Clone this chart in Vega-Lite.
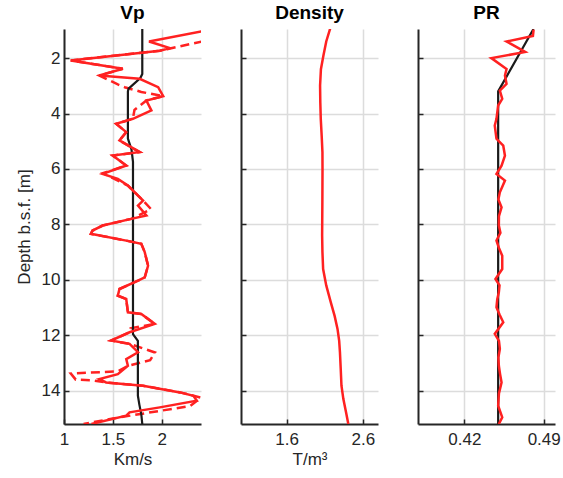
{
  "$schema": "https://vega.github.io/schema/vega-lite/v6.json",
  "background": "white",
  "padding": {"left": 15, "top": 4, "right": 5, "bottom": 5},
  "bounds": "flush",
  "spacing": 40,
  "config": {
    "font": "Liberation Sans",
    "view": {"stroke": null},
    "axis": {
      "domainColor": "#262626", "domainWidth": 2,
      "tickColor": "#262626", "tickWidth": 1.5, "tickSize": -5,
      "gridColor": "#dcdcdc", "gridWidth": 1.5,
      "labelFontSize": 17, "titleFontSize": 17,
      "labelColor": "#262626", "titleColor": "#262626",
      "titleFontWeight": "normal", "labelFlush": false, "labelOverlap": false
    },
    "axisX": {"labelPadding": 12},
    "axisY": {"labelPadding": 9},
    "title": {"fontSize": 19, "fontWeight": "bold", "color": "#000000", "offset": 6}
  },
  "datasets": {
    "vp": [
      {"series": "dash", "depth": 1.30, "value": 2.56},
      {"series": "dash", "depth": 1.48, "value": 2.306},
      {"series": "dash", "depth": 1.736, "value": 1.979},
      {"series": "dash", "depth": 2.085, "value": 1.069},
      {"series": "dash", "depth": 2.386, "value": 1.601},
      {"series": "dash", "depth": 2.627, "value": 1.361},
      {"series": "dash", "depth": 2.95, "value": 1.55},
      {"series": "dash", "depth": 3.05, "value": 1.62},
      {"series": "dash", "depth": 3.22, "value": 1.79},
      {"series": "dash", "depth": 3.372, "value": 2.014},
      {"series": "dash", "depth": 3.53, "value": 1.842},
      {"series": "dash", "depth": 3.87, "value": 1.72},
      {"series": "dash", "depth": 4.19, "value": 1.704},
      {"series": "dash", "depth": 4.37, "value": 1.533},
      {"series": "dash", "depth": 4.67, "value": 1.636},
      {"series": "dash", "depth": 4.97, "value": 1.567},
      {"series": "dash", "depth": 5.39, "value": 1.773},
      {"series": "dash", "depth": 5.515, "value": 1.498},
      {"series": "dash", "depth": 5.876, "value": 1.636},
      {"series": "dash", "depth": 6.15, "value": 1.40},
      {"series": "dash", "depth": 6.30, "value": 1.48},
      {"series": "dash", "depth": 6.598, "value": 1.653},
      {"series": "dash", "depth": 6.899, "value": 1.739},
      {"series": "dash", "depth": 7.14, "value": 1.808},
      {"series": "dash", "depth": 7.45, "value": 1.89},
      {"series": "dash", "depth": 7.80, "value": 1.687},
      {"series": "dash", "depth": 8.04, "value": 1.395},
      {"series": "dash", "depth": 8.22, "value": 1.292},
      {"series": "dash", "depth": 8.34, "value": 1.275},
      {"series": "dash", "depth": 8.585, "value": 1.636},
      {"series": "dash", "depth": 8.70, "value": 1.790},
      {"series": "dash", "depth": 9.00, "value": 1.825},
      {"series": "dash", "depth": 9.49, "value": 1.859},
      {"series": "dash", "depth": 9.91, "value": 1.825},
      {"series": "dash", "depth": 10.03, "value": 1.756},
      {"series": "dash", "depth": 10.33, "value": 1.567},
      {"series": "dash", "depth": 10.57, "value": 1.550},
      {"series": "dash", "depth": 10.69, "value": 1.636},
      {"series": "dash", "depth": 11.17, "value": 1.653},
      {"series": "dash", "depth": 11.23, "value": 1.790},
      {"series": "dash", "depth": 11.59, "value": 1.928},
      {"series": "dash", "depth": 11.75, "value": 1.68},
      {"series": "dash", "depth": 11.89, "value": 1.670},
      {"series": "dash", "depth": 12.19, "value": 1.481},
      {"series": "dash", "depth": 12.31, "value": 1.670},
      {"series": "dash", "depth": 12.62, "value": 1.93},
      {"series": "dash", "depth": 12.90, "value": 1.88},
      {"series": "dash", "depth": 13.10, "value": 1.653},
      {"series": "dash", "depth": 13.30, "value": 1.55},
      {"series": "dash", "depth": 13.38, "value": 1.07},
      {"series": "dash", "depth": 13.60, "value": 1.12},
      {"series": "dash", "depth": 13.62, "value": 1.28},
      {"series": "dash", "depth": 13.70, "value": 1.43},
      {"series": "dash", "depth": 13.82, "value": 1.808},
      {"series": "dash", "depth": 14.06, "value": 2.186},
      {"series": "dash", "depth": 14.25, "value": 2.40},
      {"series": "dash", "depth": 14.55, "value": 2.29},
      {"series": "dash", "depth": 14.80, "value": 1.85},
      {"series": "dash", "depth": 15.00, "value": 1.50},
      {"series": "dash", "depth": 15.20, "value": 1.20},

      {"series": "solid", "depth": 0.95, "value": 2.54},
      {"series": "solid", "depth": 1.40, "value": 1.869},
      {"series": "solid", "depth": 1.64, "value": 2.082},
      {"series": "solid", "depth": 1.736, "value": 1.979},
      {"series": "solid", "depth": 2.085, "value": 1.069},
      {"series": "solid", "depth": 2.386, "value": 1.601},
      {"series": "solid", "depth": 2.627, "value": 1.361},
      {"series": "solid", "depth": 2.747, "value": 1.773},
      {"series": "solid", "depth": 3.047, "value": 1.962},
      {"series": "solid", "depth": 3.372, "value": 2.014},
      {"series": "solid", "depth": 3.53, "value": 1.842},
      {"series": "solid", "depth": 3.89, "value": 1.893},
      {"series": "solid", "depth": 4.19, "value": 1.704},
      {"series": "solid", "depth": 4.37, "value": 1.533},
      {"series": "solid", "depth": 4.67, "value": 1.636},
      {"series": "solid", "depth": 4.97, "value": 1.567},
      {"series": "solid", "depth": 5.39, "value": 1.773},
      {"series": "solid", "depth": 5.515, "value": 1.498},
      {"series": "solid", "depth": 5.876, "value": 1.636},
      {"series": "solid", "depth": 6.177, "value": 1.395},
      {"series": "solid", "depth": 6.357, "value": 1.550},
      {"series": "solid", "depth": 6.598, "value": 1.653},
      {"series": "solid", "depth": 6.899, "value": 1.739},
      {"series": "solid", "depth": 7.14, "value": 1.808},
      {"series": "solid", "depth": 7.32, "value": 1.756},
      {"series": "solid", "depth": 7.68, "value": 1.842},
      {"series": "solid", "depth": 7.80, "value": 1.687},
      {"series": "solid", "depth": 8.04, "value": 1.395},
      {"series": "solid", "depth": 8.22, "value": 1.292},
      {"series": "solid", "depth": 8.34, "value": 1.275},
      {"series": "solid", "depth": 8.585, "value": 1.636},
      {"series": "solid", "depth": 8.70, "value": 1.790},
      {"series": "solid", "depth": 9.00, "value": 1.825},
      {"series": "solid", "depth": 9.49, "value": 1.859},
      {"series": "solid", "depth": 9.91, "value": 1.825},
      {"series": "solid", "depth": 10.03, "value": 1.756},
      {"series": "solid", "depth": 10.33, "value": 1.567},
      {"series": "solid", "depth": 10.57, "value": 1.550},
      {"series": "solid", "depth": 10.69, "value": 1.636},
      {"series": "solid", "depth": 11.17, "value": 1.653},
      {"series": "solid", "depth": 11.23, "value": 1.790},
      {"series": "solid", "depth": 11.59, "value": 1.928},
      {"series": "solid", "depth": 11.89, "value": 1.670},
      {"series": "solid", "depth": 12.19, "value": 1.481},
      {"series": "solid", "depth": 12.31, "value": 1.670},
      {"series": "solid", "depth": 12.61, "value": 1.756},
      {"series": "solid", "depth": 12.86, "value": 1.636},
      {"series": "solid", "depth": 13.10, "value": 1.653},
      {"series": "solid", "depth": 13.40, "value": 1.550},
      {"series": "solid", "depth": 13.58, "value": 1.361},
      {"series": "solid", "depth": 13.70, "value": 1.430},
      {"series": "solid", "depth": 13.82, "value": 1.808},
      {"series": "solid", "depth": 14.06, "value": 2.186},
      {"series": "solid", "depth": 14.18, "value": 2.323},
      {"series": "solid", "depth": 14.36, "value": 2.357},
      {"series": "solid", "depth": 14.60, "value": 1.979},
      {"series": "solid", "depth": 14.78, "value": 1.670},
      {"series": "solid", "depth": 14.90, "value": 1.636},
      {"series": "solid", "depth": 15.20, "value": 1.28},

      {"series": "model", "depth": 0.95, "value": 1.80},
      {"series": "model", "depth": 2.57, "value": 1.80},
      {"series": "model", "depth": 2.72, "value": 1.78},
      {"series": "model", "depth": 3.10, "value": 1.66},
      {"series": "model", "depth": 3.20, "value": 1.653},
      {"series": "model", "depth": 4.90, "value": 1.653},
      {"series": "model", "depth": 5.30, "value": 1.69},
      {"series": "model", "depth": 5.74, "value": 1.705},
      {"series": "model", "depth": 11.96, "value": 1.705},
      {"series": "model", "depth": 12.20, "value": 1.755},
      {"series": "model", "depth": 14.18, "value": 1.755},
      {"series": "model", "depth": 14.50, "value": 1.77},
      {"series": "model", "depth": 14.85, "value": 1.79},
      {"series": "model", "depth": 15.20, "value": 1.80}
    ],
    "density": [
      {"depth": 0.94, "value": 2.171},
      {"depth": 1.40, "value": 2.12},
      {"depth": 1.906, "value": 2.083},
      {"depth": 2.40, "value": 2.05},
      {"depth": 2.99, "value": 2.039},
      {"depth": 3.60, "value": 2.042},
      {"depth": 4.19, "value": 2.048},
      {"depth": 4.80, "value": 2.06},
      {"depth": 5.39, "value": 2.07},
      {"depth": 6.00, "value": 2.071},
      {"depth": 6.60, "value": 2.07},
      {"depth": 7.20, "value": 2.069},
      {"depth": 8.40, "value": 2.066},
      {"depth": 9.00, "value": 2.07},
      {"depth": 9.61, "value": 2.079},
      {"depth": 10.20, "value": 2.12},
      {"depth": 10.81, "value": 2.18},
      {"depth": 11.30, "value": 2.23},
      {"depth": 11.77, "value": 2.268},
      {"depth": 12.20, "value": 2.29},
      {"depth": 12.61, "value": 2.30},
      {"depth": 13.20, "value": 2.31},
      {"depth": 13.82, "value": 2.32},
      {"depth": 14.30, "value": 2.345},
      {"depth": 14.78, "value": 2.38},
      {"depth": 15.20, "value": 2.41}
    ],
    "pr": [
      {"series": "model", "depth": 0.95, "value": 0.481},
      {"series": "model", "depth": 3.20, "value": 0.4498},
      {"series": "model", "depth": 15.20, "value": 0.4498},

      {"series": "data", "depth": 0.97, "value": 0.4811},
      {"series": "data", "depth": 1.20, "value": 0.4805},
      {"series": "data", "depth": 1.40, "value": 0.4572},
      {"series": "data", "depth": 1.78, "value": 0.4737},
      {"series": "data", "depth": 2.00, "value": 0.4438},
      {"series": "data", "depth": 2.39, "value": 0.4572},
      {"series": "data", "depth": 2.63, "value": 0.4558},
      {"series": "data", "depth": 2.93, "value": 0.4572},
      {"series": "data", "depth": 3.17, "value": 0.4513},
      {"series": "data", "depth": 3.47, "value": 0.4534},
      {"series": "data", "depth": 3.71, "value": 0.4498},
      {"series": "data", "depth": 4.19, "value": 0.4483},
      {"series": "data", "depth": 4.43, "value": 0.4468},
      {"series": "data", "depth": 4.91, "value": 0.4483},
      {"series": "data", "depth": 5.16, "value": 0.4543},
      {"series": "data", "depth": 5.52, "value": 0.4558},
      {"series": "data", "depth": 5.88, "value": 0.4528},
      {"series": "data", "depth": 6.18, "value": 0.4483},
      {"series": "data", "depth": 6.42, "value": 0.4558},
      {"series": "data", "depth": 6.84, "value": 0.4513},
      {"series": "data", "depth": 7.10, "value": 0.4500},
      {"series": "data", "depth": 7.38, "value": 0.4528},
      {"series": "data", "depth": 7.70, "value": 0.4505},
      {"series": "data", "depth": 8.04, "value": 0.4504},
      {"series": "data", "depth": 8.30, "value": 0.4518},
      {"series": "data", "depth": 8.58, "value": 0.4483},
      {"series": "data", "depth": 8.85, "value": 0.4505},
      {"series": "data", "depth": 9.13, "value": 0.4534},
      {"series": "data", "depth": 9.61, "value": 0.4534},
      {"series": "data", "depth": 9.97, "value": 0.4474},
      {"series": "data", "depth": 10.20, "value": 0.4510},
      {"series": "data", "depth": 10.45, "value": 0.4504},
      {"series": "data", "depth": 10.70, "value": 0.4490},
      {"series": "data", "depth": 10.99, "value": 0.4483},
      {"series": "data", "depth": 11.25, "value": 0.4510},
      {"series": "data", "depth": 11.53, "value": 0.4543},
      {"series": "data", "depth": 11.95, "value": 0.4468},
      {"series": "data", "depth": 12.20, "value": 0.4505},
      {"series": "data", "depth": 12.49, "value": 0.4513},
      {"series": "data", "depth": 12.80, "value": 0.4500},
      {"series": "data", "depth": 13.10, "value": 0.4504},
      {"series": "data", "depth": 13.40, "value": 0.4515},
      {"series": "data", "depth": 13.70, "value": 0.4528},
      {"series": "data", "depth": 14.10, "value": 0.4505},
      {"series": "data", "depth": 14.54, "value": 0.4498},
      {"series": "data", "depth": 14.96, "value": 0.4534},
      {"series": "data", "depth": 15.20, "value": 0.4504}
    ]
  },
  "hconcat": [
    {
      "width": 137, "height": 395,
      "title": "Vp",
      "data": {"name": "vp"},
      "encoding": {
        "y": {"field": "depth", "type": "quantitative",
              "scale": {"domain": [0.95, 15.2], "reverse": true, "nice": false, "zero": false},
              "axis": {"title": "Depth b.s.f. [m]", "values": [2, 4, 6, 8, 10, 12, 14], "titlePadding": 8, "format": "d"}},
        "x": {"field": "value", "type": "quantitative",
              "scale": {"domain": [1, 2.4], "nice": false, "zero": false},
              "axis": {"title": "Km/s", "values": [1, 1.5, 2], "format": "~g", "titlePadding": 4}},
        "order": {"field": "depth", "type": "quantitative"}
      },
      "layer": [
        {"transform": [{"filter": "datum.series === 'dash'"}],
         "mark": {"type": "line", "clip": true, "color": "#ff2121", "strokeWidth": 2.5, "strokeDash": [9, 5]}},
        {"transform": [{"filter": "datum.series === 'model'"}],
         "mark": {"type": "line", "clip": true, "color": "#1a1a1a", "strokeWidth": 2.2}},
        {"transform": [{"filter": "datum.series === 'solid'"}],
         "mark": {"type": "line", "clip": true, "color": "#ff2121", "strokeWidth": 2.5}}
      ]
    },
    {
      "width": 137, "height": 395,
      "title": "Density",
      "data": {"name": "density"},
      "mark": {"type": "line", "clip": true, "color": "#ff2121", "strokeWidth": 2.5},
      "encoding": {
        "y": {"field": "depth", "type": "quantitative",
              "scale": {"domain": [0.95, 15.2], "reverse": true, "nice": false, "zero": false},
              "axis": {"title": null, "labels": false, "values": [2, 4, 6, 8, 10, 12, 14]}},
        "x": {"field": "value", "type": "quantitative",
              "scale": {"domain": [1, 2.8], "nice": false, "zero": false},
              "axis": {"title": "T/m³", "values": [1.6, 2.6], "format": ".1f", "titlePadding": 4}},
        "order": {"field": "depth", "type": "quantitative"}
      }
    },
    {
      "width": 137, "height": 395,
      "title": "PR",
      "data": {"name": "pr"},
      "encoding": {
        "y": {"field": "depth", "type": "quantitative",
              "scale": {"domain": [0.95, 15.2], "reverse": true, "nice": false, "zero": false},
              "axis": {"title": null, "labels": false, "values": [2, 4, 6, 8, 10, 12, 14]}},
        "x": {"field": "value", "type": "quantitative",
              "scale": {"domain": [0.379, 0.5], "nice": false, "zero": false},
              "axis": {"title": null, "values": [0.42, 0.49], "format": ".2f"}},
        "order": {"field": "depth", "type": "quantitative"}
      },
      "layer": [
        {"transform": [{"filter": "datum.series === 'model'"}],
         "mark": {"type": "line", "clip": true, "color": "#1a1a1a", "strokeWidth": 2.2}},
        {"transform": [{"filter": "datum.series === 'data'"}],
         "mark": {"type": "line", "clip": true, "color": "#ff2121", "strokeWidth": 2.5}}
      ]
    }
  ]
}
